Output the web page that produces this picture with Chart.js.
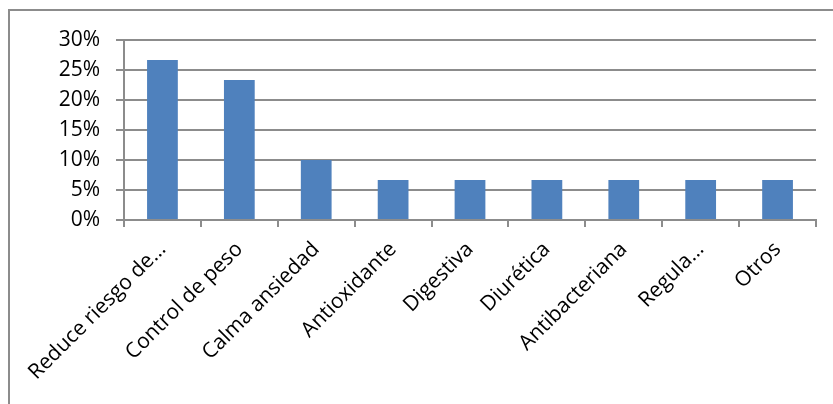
<!DOCTYPE html>
<html lang="es">
<head>
<meta charset="UTF-8">
<script src="https://cdn.jsdelivr.net/npm/chart.js@4.4.0/dist/chart.umd.min.js"></script>
<title>Beneficios</title>
<style>
  html, body { margin: 0; padding: 0; background: #fff; }
  #wrap { width: 833px; height: 404px; position: relative; }
</style>
</head>
<body>
<div id="wrap"><canvas id="chart" width="833" height="404"></canvas></div>
<script>
const categorias = ['Reduce riesgo de…', 'Control de peso', 'Calma ansiedad', 'Antioxidante',
  'Digestiva', 'Diurética', 'Antibacteriana', 'Regula…', 'Otros'];
const porcentajes = [26.67, 23.33, 10, 6.67, 6.67, 6.67, 6.67, 6.67, 6.67];
const ticksY = [0, 5, 10, 15, 20, 25, 30];

const gris = '#8c8c8c';

// marco exterior del gráfico
const marco = {
  id: 'marco',
  beforeDraw(chart) {
    const c = chart.ctx;
    c.save();
    c.strokeStyle = gris;
    c.lineWidth = 2;
    c.strokeRect(9, 10, 900, 500);
    c.restore();
  }
};

const ctx = document.getElementById('chart').getContext('2d');
new Chart(ctx, {
  type: 'bar',
  data: {
    labels: categorias,
    datasets: [{
      data: porcentajes,
      backgroundColor: '#4f81bd',
      borderWidth: 0,
      categoryPercentage: 1,
      barPercentage: 0.4
    }]
  },
  options: {
    responsive: false,
    animation: false,
    layout: { padding: { left: 9, top: 40, right: 17, bottom: 0 } },
    plugins: { legend: { display: false }, tooltip: { enabled: false } },
    scales: {
      x: {
        offset: true,
        grid: {
          offset: true,
          drawOnChartArea: false,
          drawTicks: true,
          tickLength: 7,
          color: gris,
          lineWidth: 2
        },
        border: { color: gris, width: 2 },
        ticks: {
          color: '#000',
          font: { family: 'Open Sans', size: 21 },
          minRotation: 45,
          maxRotation: 45,
          autoSkip: false,
          padding: 10
        },
        afterFit(scale) { scale.height = 184; }
      },
      y: {
        min: 0,
        max: 30,
        afterBuildTicks(scale) { scale.ticks = ticksY.map(v => ({ value: v })); },
        grid: { color: gris, lineWidth: 2, tickLength: 8 },
        border: { color: gris, width: 2 },
        ticks: {
          color: '#000',
          font: { family: 'Open Sans', size: 21 },
          padding: 16,
          callback: v => v + '%'
        },
        afterFit(scale) { scale.width = 115; }
      }
    }
  },
  plugins: [marco]
});
</script>
</body>
</html>
